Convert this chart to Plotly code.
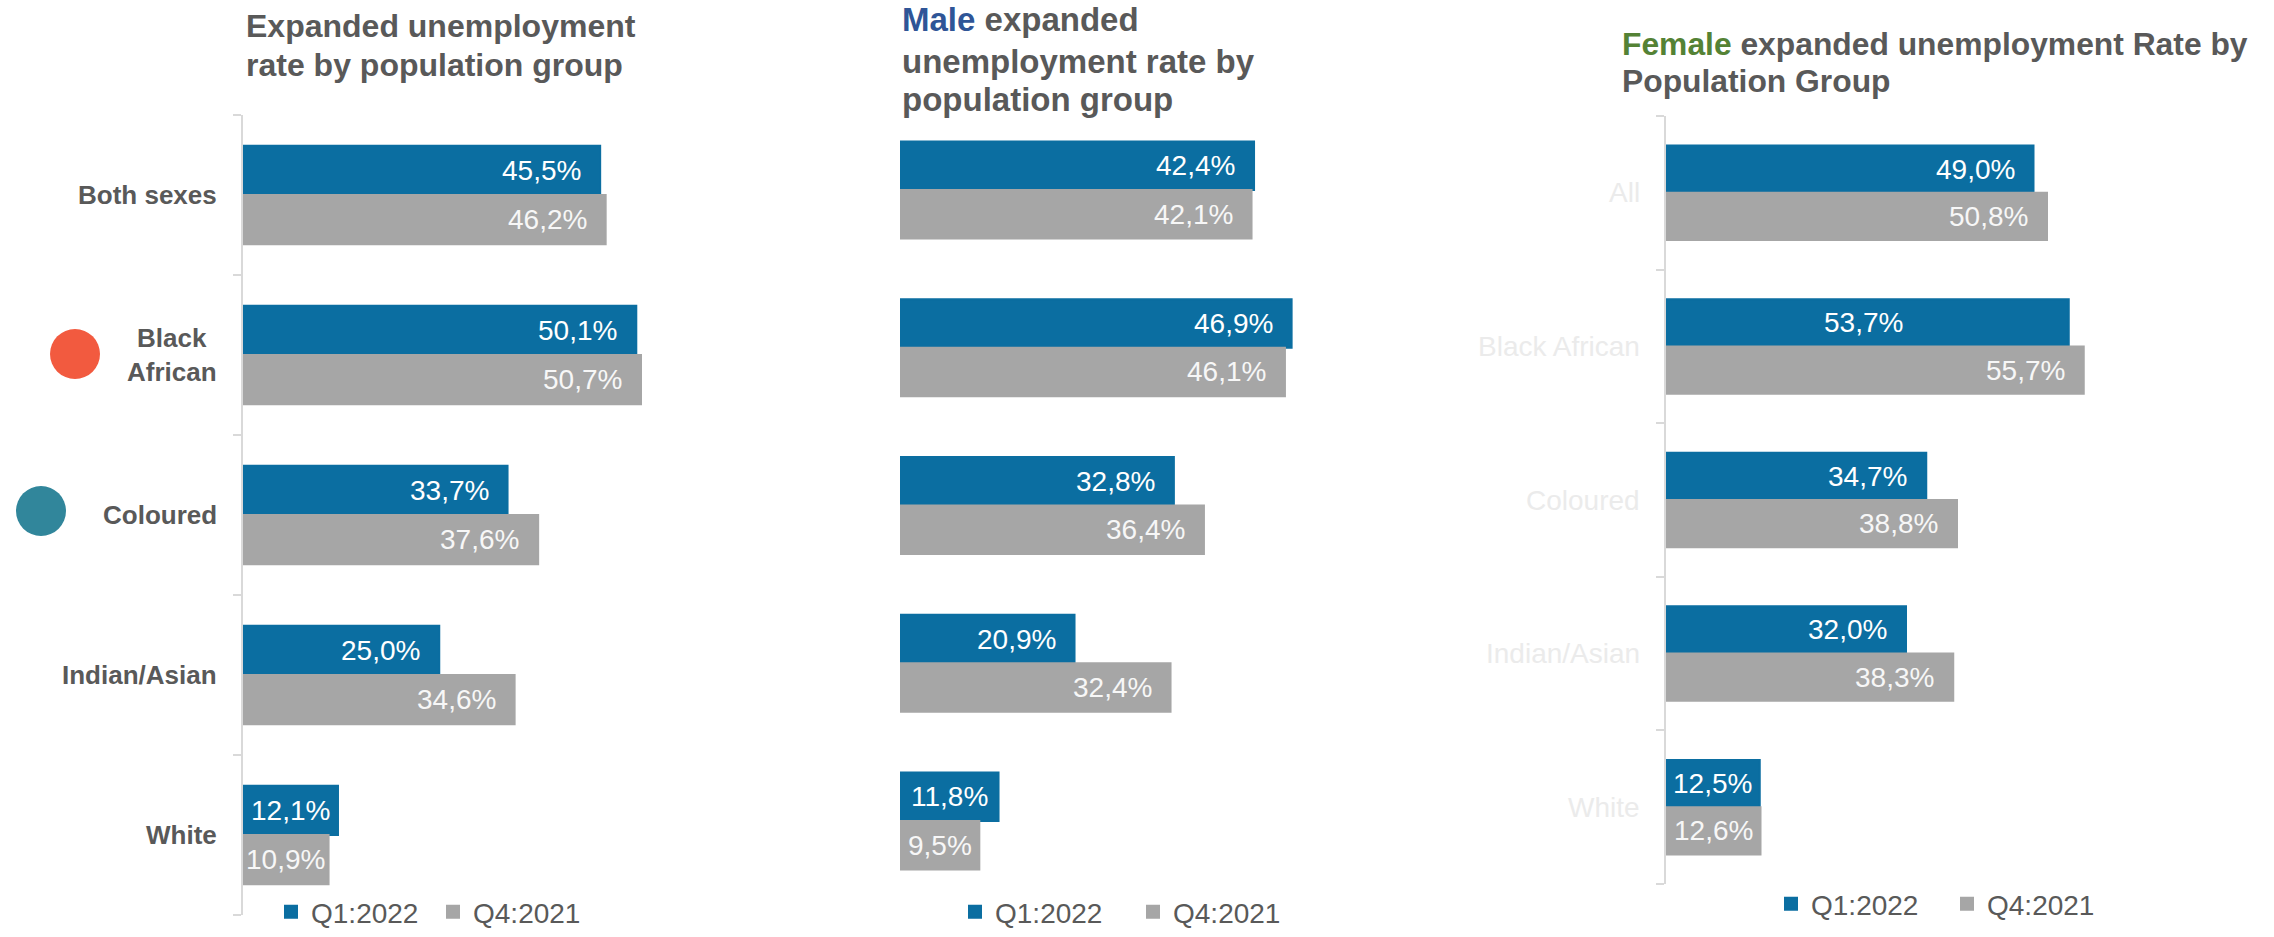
import plotly.graph_objects as go

# ---- data -------------------------------------------------------------
groups_total = ["Both sexes", "Black<br>African", "Coloured", "Indian/Asian", "White"]
groups_female = ["All", "Black African", "Coloured", "Indian/Asian", "White"]
series_names = ["Q1:2022", "Q4:2021"]

total_q1 = [45.5, 50.1, 33.7, 25.0, 12.1]
total_q4 = [46.2, 50.7, 37.6, 34.6, 10.9]
male_q1 = [42.4, 46.9, 32.8, 20.9, 11.8]
male_q4 = [42.1, 46.1, 36.4, 32.4, 9.5]
female_q1 = [49.0, 53.7, 34.7, 32.0, 12.5]
female_q4 = [50.8, 55.7, 38.8, 38.3, 12.6]

# ---- style --------------------------------------------------------------
W, H = 2274, 937
FONT = "Liberation Sans, Arial, sans-serif"
BLUE = "#0B6EA1"
GREY = "#A6A6A6"
TEXT = "#595959"
AXIS = "#D9D9D9"
BARGAP = 0.385
XMAX = 60
LABEL_SIZE = 28


def px_x(p):
    return p / W


def px_y(p):
    return 1 - p / H


# pixel boxes of each plotting area: (left, right, top, bottom)
# legend_pos: (left px, y px, y anchor)
panels = [
    dict(q1=total_q1, q4=total_q4, box=(243, 714, 115, 915), ax="", axis_line=True,
         legend="legend", legend_pos=(271, 937, "bottom"), entry=117),
    dict(q1=male_q1, q4=male_q4, box=(900, 1401, 111, 900), ax="2", axis_line=False,
         legend="legend2", legend_pos=(955, 937, "bottom"), entry=133),
    dict(q1=female_q1, q4=female_q4, box=(1666, 2116, 116, 884), ax="3", axis_line=True,
         legend="legend3", legend_pos=(1771, 904, "middle"), entry=131),
]

fig = go.Figure()
annotations = []
layout = {}


def label_width(text, size):
    widths = {",": 0.278, "%": 0.889}
    return sum(widths.get(ch, 0.556) for ch in text) * size


half = (1 - BARGAP) / 4  # centre offset of each bar within its group

for p in panels:
    xa, ya = "x" + p["ax"], "y" + p["ax"]
    l, r, t, b = p["box"]
    px_per_unit = (r - l) / XMAX
    cats = list(range(len(p["q1"])))
    for name, vals, color, txtcol in [
        (series_names[0], p["q1"], BLUE, "#FFFFFF"),
        (series_names[1], p["q4"], GREY, "#F7F7F7"),
    ]:
        fig.add_trace(go.Bar(
            y=cats, x=vals, name=name, orientation="h",
            marker=dict(color=color, line=dict(width=2, color=color)),
            xaxis=xa, yaxis=ya, legend=p["legend"], hoverinfo="x+name",
        ))
        offset = -half if name == series_names[0] else half
        for i, v in enumerate(vals):
            txt = f"{v:.1f}".replace(".", ",") + "%"
            bar_px = v * px_per_unit
            lw = label_width(txt, LABEL_SIZE)
            ann = dict(xref=xa, yref=ya, y=i + offset, text=txt, showarrow=False,
                       font=dict(family=FONT, size=LABEL_SIZE, color=txtcol),
                       yanchor="middle")
            if bar_px - 17 - lw >= 4:
                ann.update(x=v, xanchor="right", xshift=-17)
            else:
                ann.update(x=v / 2, xanchor="center")
            # label nudged towards the middle of the bar in the female panel
            if p["ax"] == "3" and name == series_names[0] and i == 1:
                ann.update(xshift=-164)
            annotations.append(ann)

    layout["xaxis" + p["ax"]] = dict(
        domain=[px_x(l), px_x(r)], range=[0, XMAX], visible=False,
        anchor=ya, fixedrange=True,
    )
    layout["yaxis" + p["ax"]] = dict(
        domain=[px_y(b), px_y(t)], range=[len(cats) - 0.5, -0.5], anchor=xa,
        showline=p["axis_line"], linecolor=AXIS, linewidth=2,
        ticks="outside" if p["axis_line"] else "", ticklen=8, tickwidth=2, tickcolor=AXIS,
        tickvals=[k - 0.5 for k in range(len(cats) + 1)],
        showticklabels=False, showgrid=False, zeroline=False, fixedrange=True,
    )
    lx, ly, lanchor = p["legend_pos"]
    layout[p["legend"]] = dict(
        orientation="h", x=px_x(lx), y=px_y(ly), xanchor="left", yanchor=lanchor,
        font=dict(family=FONT, size=28, color=TEXT), bgcolor="rgba(0,0,0,0)",
        entrywidth=p["entry"], entrywidthmode="pixels", traceorder="normal",
    )

# category labels, total panel (bold, dark grey)
for i, g in enumerate(groups_total):
    annotations.append(dict(
        xref="paper", yref="y", x=px_x(219), y=i, text=f"<b>{g}</b>", showarrow=False,
        xanchor="right", yanchor="middle", align="center",
        font=dict(family=FONT, size=26, color=TEXT),
    ))

# category labels, female panel (very light grey)
for i, g in enumerate(groups_female):
    annotations.append(dict(
        xref="paper", yref="y3", x=px_x(1642), y=i, text=g, showarrow=False,
        xanchor="right", yanchor="middle",
        font=dict(family=FONT, size=28, color="#EBEBEB"),
    ))

# panel titles, one annotation per line: (left px, [(centre y px, text)], size)
MALE = "<span style='color:#2F5597'>Male</span>"
FEMALE = "<span style='color:#548235'>Female</span>"
titles = [
    (244, [(26, "Expanded unemployment"), (65, "rate by population group")], 32),
    (900, [(20, MALE + " expanded"), (61, "unemployment rate by"), (99, "population group")], 33),
    (1620, [(44, FEMALE + " expanded unemployment Rate by"), (81, "Population Group")], 31.8),
]
for x, lines, size in titles:
    for y, txt in lines:
        annotations.append(dict(
            xref="paper", yref="paper", x=px_x(x), y=px_y(y), text=f"<b>{txt}</b>",
            showarrow=False, xanchor="left", yanchor="middle", align="left",
            font=dict(family=FONT, size=size, color=TEXT),
        ))

# coloured dots beside two of the population groups
shapes = []
for cx, cy, col in [(75, 354, "#F25A3F"), (41, 511, "#31869B")]:
    shapes.append(dict(
        type="circle", xref="paper", yref="paper", xsizemode="pixel", ysizemode="pixel",
        xanchor=px_x(cx), yanchor=px_y(cy), x0=-25, x1=25, y0=-25, y1=25,
        fillcolor=col, line=dict(width=0),
    ))

fig.update_layout(
    width=W, height=H, margin=dict(l=0, r=0, t=0, b=0, autoexpand=False),
    paper_bgcolor="white", plot_bgcolor="white",
    barmode="group", bargap=BARGAP, bargroupgap=0,
    font=dict(family=FONT, color=TEXT),
    annotations=annotations, shapes=shapes,
    **layout,
)

fig.write_html("out.html", config={"displayModeBar": False})
